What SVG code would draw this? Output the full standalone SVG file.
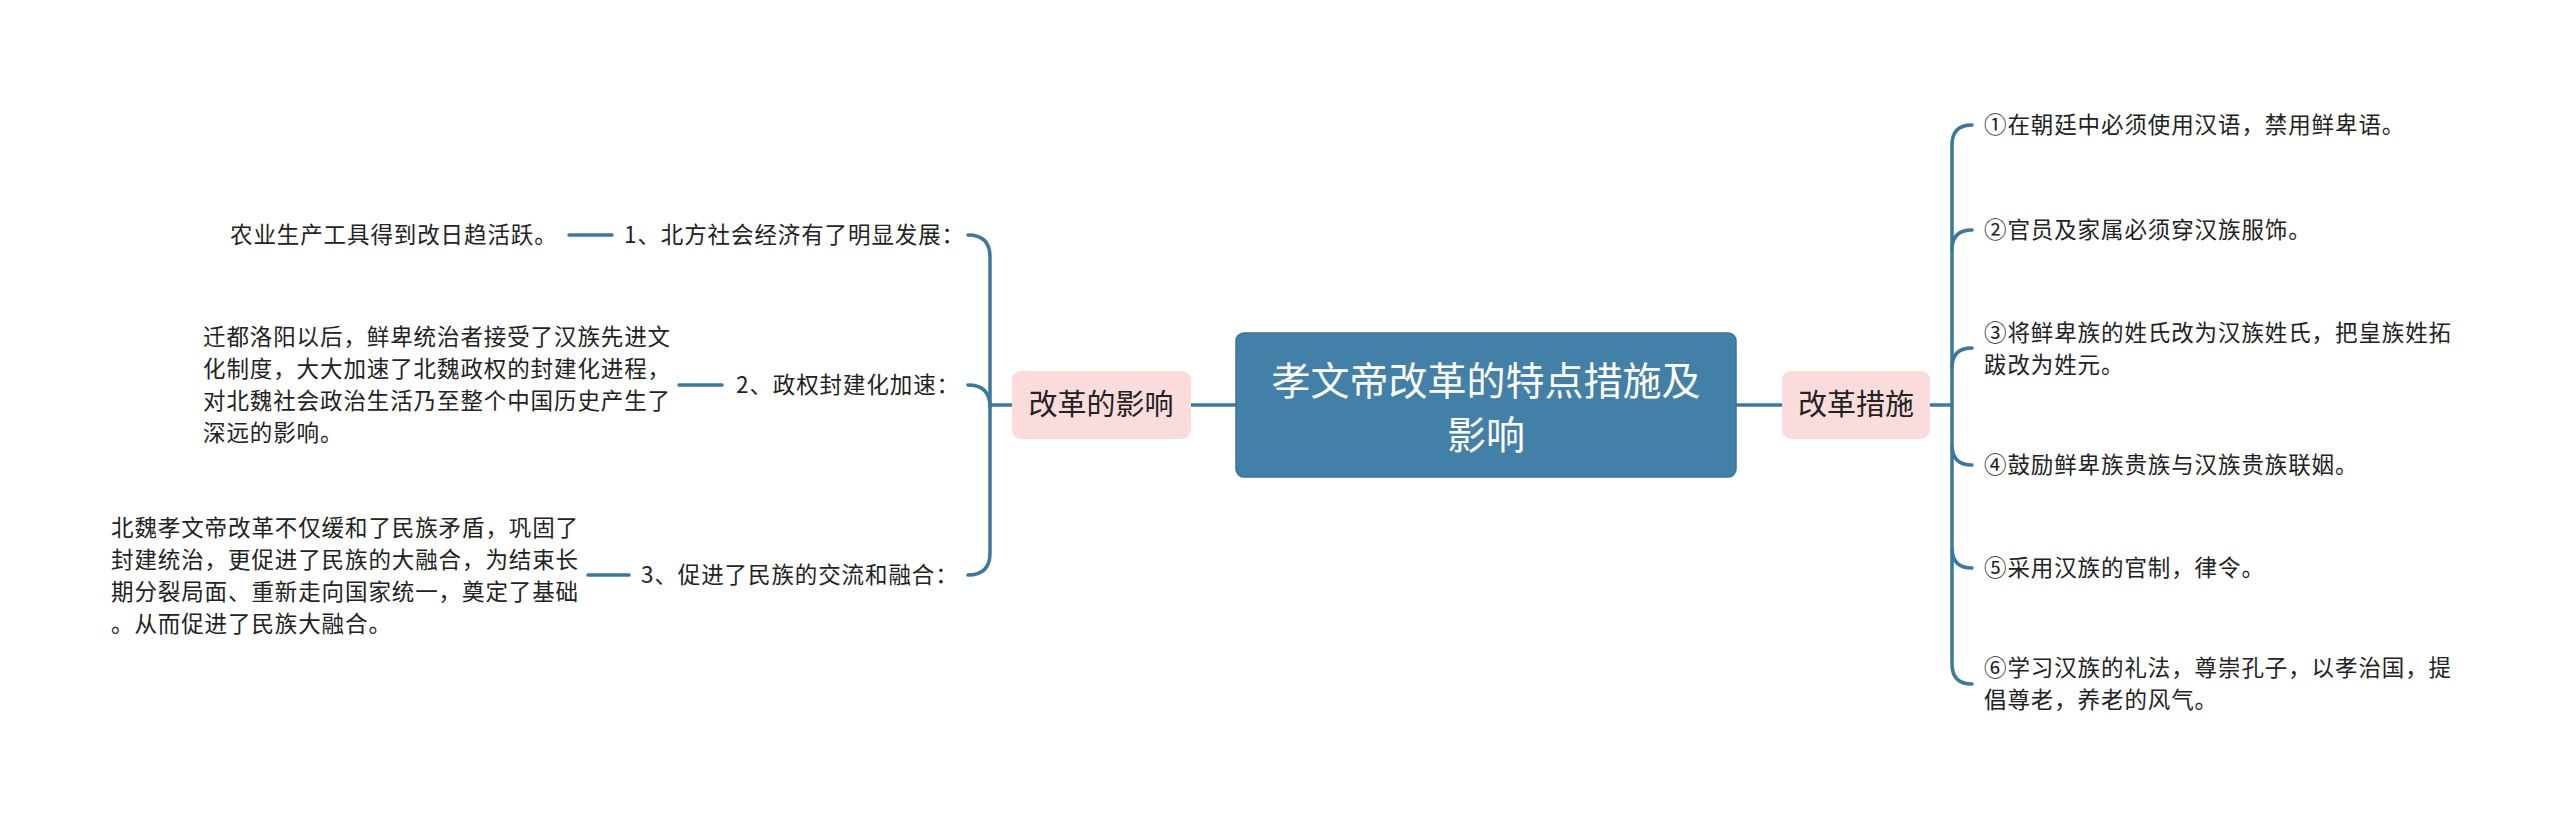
<svg xmlns="http://www.w3.org/2000/svg" width="2560" height="825" viewBox="0 0 2560 825">
<style>
text{font-family:"Noto Sans CJK SC","Noto Sans",sans-serif;}
.t{font-size:22.5px;letter-spacing:0.9px;fill:#222;}
.sub{font-size:29px;fill:#222;text-anchor:middle;}
.title{font-size:39px;fill:#fff;text-anchor:middle;}
.c{fill:none;stroke:#3b78a0;stroke-width:3.5;stroke-linecap:round;}
.pk{fill:#fadcdc;}
</style>
<rect width="2560" height="825" fill="#fff"/>
<g id="connectors">
<path class="c" d="M1191,405 H1236"/>
<path class="c" d="M1736,405 H1782"/>
<path class="c" d="M990,405 H1012"/>
<path class="c" d="M1930,405 H1952"/>
<path class="c" d="M968,235 Q990,235 990,257 V553 Q990,575 968,575"/>
<path class="c" d="M968,385 Q990,385 990,407"/>
<path class="c" d="M569,235 H612"/>
<path class="c" d="M679,385 H722"/>
<path class="c" d="M588,575 H629"/>
<path class="c" d="M1972,125 Q1952,125 1952,145 V664 Q1952,684 1972,684"/>
<path class="c" d="M1972,230 Q1952,230 1952,250"/>
<path class="c" d="M1972,348 Q1952,348 1952,368"/>
<path class="c" d="M1952,445 Q1952,465 1972,465"/>
<path class="c" d="M1952,548 Q1952,568 1972,568"/>
</g>
<g id="root">
<rect x="1236" y="333" width="500" height="144" rx="8" fill="#4280a8" stroke="#3a7399" stroke-width="1.5"/>
<text class="title" x="1486" y="395">孝文帝改革的特点措施及</text>
<text class="title" x="1486" y="449">影响</text>
</g>
<g id="n-impact">
<rect class="pk" x="1012" y="371" width="179" height="68" rx="9"/>
<text class="sub" x="1101" y="415">改革的影响</text>
</g>
<g id="n-measures">
<rect class="pk" x="1782" y="371" width="148" height="68" rx="9"/>
<text class="sub" x="1856" y="415">改革措施</text>
</g>
<g id="i1">
<text class="t" x="624" y="243">1、北方社会经济有了明显发展：</text>
</g>
<g id="i1-leaf">
<text class="t" x="230" y="243">农业生产工具得到改日趋活跃。</text>
</g>
<g id="i2">
<text class="t" x="736" y="393">2、政权封建化加速：</text>
</g>
<g id="i2-leaf">
<text class="t" x="203" y="345">迁都洛阳以后，鲜卑统治者接受了汉族先进文</text>
<text class="t" x="203" y="377">化制度，大大加速了北魏政权的封建化进程，</text>
<text class="t" x="203" y="409">对北魏社会政治生活乃至整个中国历史产生了</text>
<text class="t" x="203" y="441">深远的影响。</text>
</g>
<g id="i3">
<text class="t" x="641" y="583">3、促进了民族的交流和融合：</text>
</g>
<g id="i3-leaf">
<text class="t" x="111" y="536">北魏孝文帝改革不仅缓和了民族矛盾，巩固了</text>
<text class="t" x="111" y="568">封建统治，更促进了民族的大融合，为结束长</text>
<text class="t" x="111" y="600">期分裂局面、重新走向国家统一，奠定了基础</text>
<text class="t" x="111" y="632">。从而促进了民族大融合。</text>
</g>
<g id="m1"><text class="t" x="1984" y="133">①在朝廷中必须使用汉语，禁用鲜卑语。</text></g>
<g id="m2"><text class="t" x="1984" y="238">②官员及家属必须穿汉族服饰。</text></g>
<g id="m3">
<text class="t" x="1984" y="341">③将鲜卑族的姓氏改为汉族姓氏，把皇族姓拓</text>
<text class="t" x="1984" y="373">跋改为姓元。</text>
</g>
<g id="m4"><text class="t" x="1984" y="473">④鼓励鲜卑族贵族与汉族贵族联姻。</text></g>
<g id="m5"><text class="t" x="1984" y="576">⑤采用汉族的官制，律令。</text></g>
<g id="m6">
<text class="t" x="1984" y="676">⑥学习汉族的礼法，尊崇孔子，以孝治国，提</text>
<text class="t" x="1984" y="708">倡尊老，养老的风气。</text>
</g>
</svg>
